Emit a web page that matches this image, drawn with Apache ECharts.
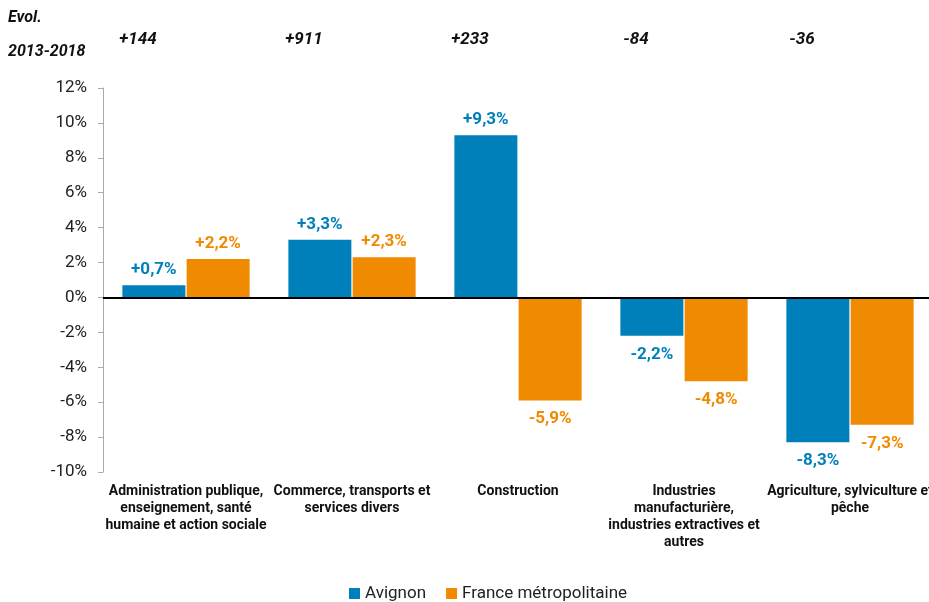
<!DOCTYPE html>
<html>
<head>
<meta charset="utf-8">
<script src="https://cdn.jsdelivr.net/npm/echarts@6/dist/echarts.min.js"></script>
<style>
html,body{margin:0;padding:0;background:#fff;}
#c{width:929px;height:602px;}
</style>
</head>
<body>
<div id="c"></div>
<script>
const categories = [
  "Administration publique,\nenseignement, santé\nhumaine et action sociale",
  "Commerce, transports et\nservices divers",
  "Construction",
  "Industries\nmanufacturière,\nindustries extractives et\nautres",
  "Agriculture, sylviculture et\npêche"
];
const avignon = [0.7, 3.3, 9.3, -2.2, -8.3];
const france = [2.2, 2.3, -5.9, -4.8, -7.3];
const evolution = ["+144", "+911", "+233", "-84", "-36"];
const seriesNames = ["Avignon", "France métropolitaine"];

const fmt = v => (v > 0 ? "+" : "") + v.toFixed(1).replace(".", ",") + "%";
const mk = (arr) => arr.map(v => ({
  value: v,
  label: v >= 0 ? { position: "top", distance: 7 } : { position: "bottom", distance: 10 }
}));

const chart = echarts.init(document.getElementById("c"), null, { renderer: "canvas" });
const colors = ["#0080bb", "#f08a00"];
const option = {
  animation: false,
  textStyle: { fontFamily: "Roboto" },
  grid: { left: 103, top: 88, width: 830, height: 384, containLabel: false, outerBoundsMode: "none" },
  legend: {
    top: 580, left: 344,
    itemWidth: 11, itemHeight: 11, itemGap: 20,
    icon: "rect",
    textStyle: { fontSize: 17, color: "#222", fontFamily: "Roboto" },
    data: seriesNames
  },
  xAxis: {
    type: "category",
    data: categories,
    axisLine: { show: false, onZero: false },
    axisTick: { show: false },
    axisLabel: {
      interval: 0, margin: 11, fontSize: 14, fontWeight: "bold", color: "#111",
      fontFamily: "Roboto", lineHeight: 17
    }
  },
  yAxis: {
    type: "value", min: -10, max: 12, interval: 2,
    axisLine: { show: true, lineStyle: { color: "#aaa" } },
    axisTick: { show: true, length: 5, lineStyle: { color: "#aaa" } },
    splitLine: { show: false },
    axisLabel: { formatter: v => v + "%", fontSize: 17, color: "#222", margin: 16 }
  },
  series: [
    {
      name: seriesNames[0], type: "bar", data: mk(avignon), barWidth: 63, barGap: "2%",
      itemStyle: { color: colors[0] },
      label: { show: true, formatter: p => fmt(p.value), color: colors[0], fontSize: 17, fontWeight: "bold" },
      markLine: {
        silent: true, symbol: "none", label: { show: false },
        lineStyle: { color: "#000", width: 2, type: "solid" },
        data: [{ yAxis: 0 }]
      }
    },
    {
      name: seriesNames[1], type: "bar", data: mk(france), barWidth: 63,
      itemStyle: { color: colors[1] },
      label: { show: true, formatter: p => fmt(p.value), color: colors[1], fontSize: 17, fontWeight: "bold" }
    }
  ]
};
chart.setOption(option);

const graphics = [
  { type: "text", left: 8, top: 10, style: { text: "Evol.", font: "italic bold 16px Roboto", fill: "#111" } },
  { type: "text", left: 8, top: 44, style: { text: "2013-2018", font: "italic bold 16px Roboto", fill: "#111" } }
];
evolution.forEach((t, i) => {
  const x = chart.convertToPixel({ xAxisIndex: 0 }, i) - 48;
  graphics.push({ type: "text", x: x, y: 40, style: { text: t, font: "italic bold 17px Roboto", fill: "#111", align: "center", verticalAlign: "middle" } });
});
chart.setOption({ graphic: graphics });
</script>
</body>
</html>
